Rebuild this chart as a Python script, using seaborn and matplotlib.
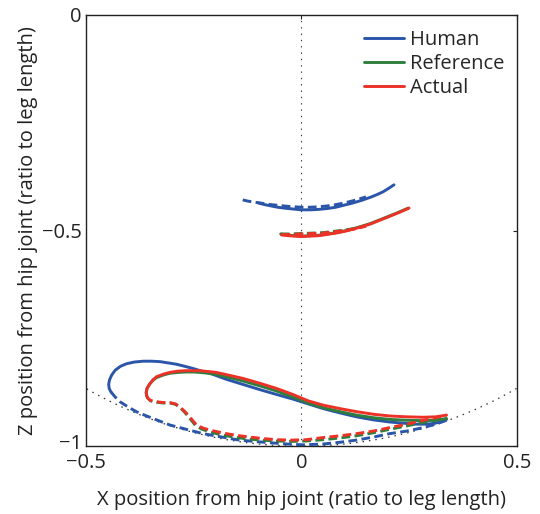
import numpy as np
import pandas as pd
import matplotlib
matplotlib.use("Agg")
import matplotlib.pyplot as plt
import matplotlib.transforms as mtransforms
from matplotlib.lines import Line2D
import seaborn as sns

# ---- trajectories (x, z) normalised by leg length ----
# knee, human
human_knee_swing_x = [-0.100, -0.085, -0.070, -0.055, -0.040, -0.020, 0.000, 0.020, 0.040, 0.060,
                      0.080, 0.100, 0.120, 0.140, 0.160, 0.175, 0.190, 0.203, 0.215]
human_knee_swing_z = [-0.436, -0.440, -0.443, -0.446, -0.448, -0.450, -0.452, -0.452, -0.451, -0.449,
                      -0.446, -0.441, -0.436, -0.430, -0.423, -0.417, -0.410, -0.402, -0.394]
human_knee_stance_x = [-0.136, -0.123, -0.110, -0.090, -0.070, -0.050, -0.030, 0.000, 0.020, 0.040,
                       0.060, 0.080, 0.100, 0.120, 0.150]
human_knee_stance_z = [-0.429, -0.432, -0.434, -0.437, -0.440, -0.442, -0.444, -0.446, -0.446, -0.445,
                       -0.443, -0.440, -0.436, -0.431, -0.422]

# knee, reference
ref_knee_swing_x = [-0.048, -0.030, -0.015, 0.000, 0.020, 0.040, 0.060, 0.080, 0.100, 0.120,
                    0.140, 0.160, 0.180, 0.200, 0.225, 0.248]
ref_knee_swing_z = [-0.508, -0.511, -0.512, -0.513, -0.512, -0.511, -0.508, -0.505, -0.501, -0.496,
                    -0.490, -0.484, -0.476, -0.468, -0.458, -0.448]
ref_knee_stance_x = [-0.048, -0.025, 0.000, 0.025, 0.050, 0.075, 0.100, 0.125, 0.150]
ref_knee_stance_z = [-0.508, -0.508, -0.507, -0.506, -0.505, -0.502, -0.499, -0.495, -0.489]

# knee, actual
act_knee_swing_x = [-0.046, -0.030, -0.015, 0.000, 0.020, 0.040, 0.060, 0.080, 0.100, 0.120,
                    0.140, 0.160, 0.180, 0.200, 0.225, 0.250]
act_knee_swing_z = [-0.510, -0.512, -0.513, -0.514, -0.513, -0.512, -0.509, -0.506, -0.502, -0.497,
                    -0.491, -0.485, -0.477, -0.469, -0.459, -0.448]
act_knee_stance_x = [-0.046, -0.025, 0.000, 0.025, 0.050, 0.075, 0.100, 0.125, 0.150]
act_knee_stance_z = [-0.510, -0.509, -0.508, -0.507, -0.506, -0.503, -0.500, -0.496, -0.490]

# ankle, human
human_ankle_swing_x = [-0.442, -0.446, -0.447, -0.445, -0.440, -0.432, -0.420, -0.406, -0.388,
                       -0.367, -0.348, -0.328, -0.309, -0.290, -0.270, -0.251, -0.231, -0.212,
                       -0.193, -0.174, -0.135, -0.096, -0.058, -0.019, 0.016, 0.051, 0.090,
                       0.128, 0.167, 0.205, 0.240, 0.267, 0.290, 0.310, 0.325, 0.337]
human_ankle_swing_z = [-0.874, -0.866, -0.856, -0.846, -0.835, -0.824, -0.815, -0.809, -0.805,
                       -0.803, -0.803, -0.804, -0.807, -0.810, -0.815, -0.820, -0.826, -0.831,
                       -0.838, -0.845, -0.857, -0.869, -0.880, -0.891, -0.902, -0.913, -0.923,
                       -0.932, -0.939, -0.944, -0.947, -0.949, -0.949, -0.947, -0.943, -0.938]
human_ankle_stance_x = [-0.442, -0.432, -0.421, -0.402, -0.383, -0.364, -0.344, -0.305, -0.267,
                        -0.228, -0.189, -0.150, -0.111, -0.073, -0.035, 0.004, 0.051, 0.090,
                        0.128, 0.167, 0.205, 0.245, 0.283, 0.312, 0.337]
human_ankle_stance_z = [-0.874, -0.886, -0.897, -0.909, -0.920, -0.928, -0.936, -0.951, -0.961,
                        -0.971, -0.978, -0.985, -0.989, -0.992, -0.995, -0.997, -0.995, -0.991,
                        -0.986, -0.979, -0.971, -0.965, -0.957, -0.949, -0.940]

# ankle, reference
ref_ankle_swing_x = [-0.359, -0.360, -0.358, -0.352, -0.344, -0.336, -0.320, -0.305, -0.286,
                     -0.267, -0.250, -0.236, -0.216, -0.197, -0.166, -0.135, -0.097, -0.058,
                     -0.020, 0.016, 0.051, 0.090, 0.128, 0.167, 0.205, 0.245, 0.283, 0.312, 0.337]
ref_ankle_swing_z = [-0.882, -0.876, -0.866, -0.856, -0.847, -0.841, -0.835, -0.831, -0.829,
                     -0.828, -0.828, -0.829, -0.831, -0.834, -0.841, -0.849, -0.860, -0.872,
                     -0.886, -0.900, -0.911, -0.920, -0.928, -0.934, -0.938, -0.940, -0.941,
                     -0.940, -0.936]
ref_ankle_stance_x = [-0.359, -0.357, -0.350, -0.336, -0.320, -0.305, -0.292, -0.282, -0.271,
                      -0.261, -0.252, -0.245, -0.230, -0.212, -0.193, -0.174, -0.150, -0.127,
                      -0.093, -0.058, -0.023, 0.012, 0.051, 0.090, 0.128, 0.167, 0.205, 0.245,
                      0.283, 0.312, 0.337]
ref_ankle_stance_z = [-0.882, -0.888, -0.895, -0.898, -0.900, -0.900, -0.903, -0.910, -0.921,
                      -0.933, -0.944, -0.953, -0.961, -0.967, -0.972, -0.976, -0.980, -0.983,
                      -0.986, -0.988, -0.989, -0.988, -0.985, -0.981, -0.976, -0.969, -0.961,
                      -0.953, -0.945, -0.940, -0.936]

# ankle, actual
act_ankle_swing_x = [-0.359, -0.360, -0.358, -0.352, -0.344, -0.336, -0.320, -0.305, -0.286,
                     -0.267, -0.250, -0.236, -0.216, -0.197, -0.166, -0.135, -0.097, -0.058,
                     -0.020, 0.016, 0.051, 0.090, 0.128, 0.167, 0.205, 0.245, 0.283, 0.312, 0.337]
act_ankle_swing_z = [-0.882, -0.876, -0.866, -0.856, -0.846, -0.839, -0.833, -0.829, -0.826,
                     -0.825, -0.825, -0.825, -0.827, -0.829, -0.836, -0.843, -0.854, -0.866,
                     -0.880, -0.895, -0.905, -0.913, -0.920, -0.926, -0.930, -0.932, -0.933,
                     -0.932, -0.928]
act_ankle_stance_x = [-0.359, -0.357, -0.350, -0.336, -0.320, -0.305, -0.292, -0.282, -0.270,
                      -0.259, -0.250, -0.243, -0.228, -0.212, -0.193, -0.174, -0.150, -0.127,
                      -0.093, -0.058, -0.023, 0.012, 0.051, 0.090, 0.128, 0.167, 0.205, 0.245,
                      0.283, 0.312, 0.337]
act_ankle_stance_z = [-0.882, -0.888, -0.894, -0.897, -0.899, -0.899, -0.902, -0.909, -0.920,
                      -0.932, -0.943, -0.951, -0.958, -0.963, -0.967, -0.971, -0.975, -0.978,
                      -0.982, -0.985, -0.986, -0.985, -0.980, -0.976, -0.971, -0.965, -0.957,
                      -0.949, -0.940, -0.934, -0.928]

sources = ["Human", "Reference", "Actual"]
colors = ["#2a55a8", "#2e7f3e", "#ec3127"]
x_ticks = [-0.5, 0, 0.5]
z_ticks = [-1, -0.5, 0]
x_tick_labels = ["\u22120.5", "0", "0.5"]
z_tick_labels = ["\u22121", "\u22120.5", "0"]

segments = [
    ("Human", "knee", "swing", human_knee_swing_x, human_knee_swing_z),
    ("Human", "knee", "stance", human_knee_stance_x, human_knee_stance_z),
    ("Human", "ankle", "swing", human_ankle_swing_x, human_ankle_swing_z),
    ("Human", "ankle", "stance", human_ankle_stance_x, human_ankle_stance_z),
    ("Reference", "knee", "swing", ref_knee_swing_x, ref_knee_swing_z),
    ("Reference", "knee", "stance", ref_knee_stance_x, ref_knee_stance_z),
    ("Reference", "ankle", "swing", ref_ankle_swing_x, ref_ankle_swing_z),
    ("Reference", "ankle", "stance", ref_ankle_stance_x, ref_ankle_stance_z),
    ("Actual", "knee", "swing", act_knee_swing_x, act_knee_swing_z),
    ("Actual", "knee", "stance", act_knee_stance_x, act_knee_stance_z),
    ("Actual", "ankle", "swing", act_ankle_swing_x, act_ankle_swing_z),
    ("Actual", "ankle", "stance", act_ankle_stance_x, act_ankle_stance_z),
]

frames = []
for i, (src, joint, phase, xs, zs) in enumerate(segments):
    frames.append(pd.DataFrame({"x": xs, "z": zs, "source": src, "joint": joint,
                                "phase": phase, "seg": i}))
df = pd.concat(frames, ignore_index=True)

sns.set_theme(style="white")
plt.rcParams["font.family"] = ["Open Sans", "DejaVu Sans"]
plt.rcParams["lines.solid_capstyle"] = "round"
plt.rcParams["lines.solid_joinstyle"] = "round"

fig = plt.figure(figsize=(5.40, 5.14), dpi=100)
ax = fig.add_axes([0.159, 0.132, 0.798, 0.839])

# guides: vertical through the hip and the unit leg-length circle
ax.axvline(0, color="#333333", lw=0.8, linestyle=(0, (1.2, 4.5)), zorder=1)
theta = np.linspace(np.deg2rad(-150), np.deg2rad(-30), 200)
ax.plot(np.cos(theta), np.sin(theta), color="#333333", lw=0.9,
        linestyle=(0, (1.2, 4.0)), zorder=1)

sns.lineplot(data=df, x="x", y="z", hue="source", hue_order=sources,
             palette=colors, style="phase", style_order=["swing", "stance"],
             dashes={"swing": "", "stance": (3.0, 1.5)}, units="seg",
             estimator=None, sort=False, lw=2.1, legend=False, ax=ax, zorder=3)

ax.set_xlim(-0.5, 0.5)
ax.set_ylim(-1, 0)
ax.set_xticks(x_ticks)
ax.set_xticklabels(x_tick_labels)
ax.set_yticks(z_ticks)
ax.set_yticklabels(z_tick_labels)
ax.tick_params(axis="both", direction="in", length=3, width=0.8, color="#222222",
               labelsize=14.5, labelcolor="#222222", top=True, right=True)
ax.tick_params(axis="x", pad=5)
ax.tick_params(axis="y", pad=3)
# nudge the bottom y label up so it clears the x tick label below it
ax.get_yticklabels()[0].set_transform(
    ax.get_yticklabels()[0].get_transform()
    + mtransforms.ScaledTranslation(0, 5 / 100, fig.dpi_scale_trans))
for s in ax.spines.values():
    s.set_color("#222222")
    s.set_linewidth(1.0)

ax.set_xlabel("X position from hip joint (ratio to leg length)", fontsize=14.5,
              color="#222222", labelpad=12)
ax.set_ylabel("Z position from hip joint (ratio to leg length)", fontsize=14.5,
              color="#222222", labelpad=3)

handles = [Line2D([], [], color=c, lw=2.1) for c in colors]
ax.legend(handles, sources, loc="upper right", frameon=False, fontsize=14.5,
          handlelength=2.0, handletextpad=0.3, labelspacing=0.2,
          borderaxespad=0.2, bbox_to_anchor=(1.0, 0.993))

fig.savefig("out.png", dpi=100)
